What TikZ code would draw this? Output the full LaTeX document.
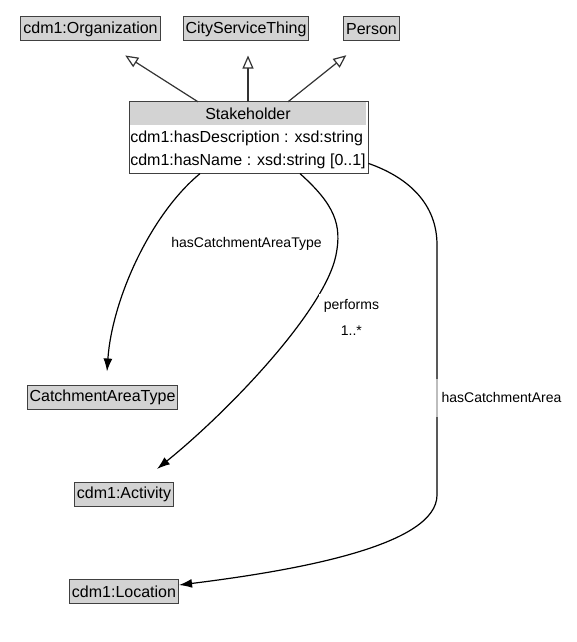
\documentclass[tikz,border=0pt]{standalone}
\usepackage{fontspec}
\setmainfont{Liberation Sans}
\usetikzlibrary{arrows.meta,positioning}
\definecolor{boxgray}{RGB}{211,211,211}
\tikzset{
	cls/.style={draw=black!75,fill=boxgray,line width=1pt,font=\fontsize{16}{19}\selectfont,
		inner xsep=2.5pt,inner ysep=0pt,minimum height=24pt},
	hdr/.style={fill=boxgray,font=\fontsize{16}{19}\selectfont,minimum width=236pt,
		minimum height=23pt,inner sep=0pt},
	attrs/.style={font=\fontsize{16}{23}\selectfont,align=left,minimum width=236pt,
		inner xsep=2.5pt,inner ysep=0pt,minimum height=48pt},
	isa/.style={draw=black!80,line width=1.2pt,-{Triangle[open,length=13pt,width=11pt]}},
	assoc/.style={draw=black,line width=1.2pt,-{Latex[length=13pt,width=9pt]}},
	lbl/.style={font=\fontsize{14}{17}\selectfont,fill=white,inner sep=3pt}
}
\begin{document}
\begin{tikzpicture}[x=1pt,y=-1pt]
	\useasboundingbox (0,0) rectangle (577,642);
	% superclasses
	\node[cls] (org) at (90.5,29) {cdm1:Organization};
	\node[cls] (cst) at (246,29) {CityServiceThing};
	\node[cls] (per) at (371.5,29) {Person};
	% the class itself
	\node[hdr] (stk) at (248,113.5) {Stakeholder};
	\node[attrs,below=0pt of stk] (stkattr)
		{cdm1:hasDescription : xsd:string\\cdm1:hasName : xsd:string [0..1]};
	\draw[draw=black!75,line width=1pt] (stk.north west) rectangle (stkattr.south east);
	% ranges
	\node[cls] (cat) at (102.5,397) {CatchmentAreaType};
	\node[cls] (act) at (124,494.5) {cdm1:Activity};
	\node[cls] (loc) at (124,591.5) {cdm1:Location};

	\draw[isa,shorten >=26pt] ([xshift=-50pt]stk.north) -- ([xshift=12.8pt]org.south);
	\draw[isa,shorten >=14pt] (stk.north) -- ([xshift=2pt]cst.south);
	\draw[isa,shorten >=22pt] ([xshift=40pt]stk.north) -- ([xshift=-8pt]per.south);

	\draw[assoc] ([xshift=-48pt]stkattr.south) .. controls (150,215) and (112,300)
		.. ([xshift=4.5pt,yshift=13pt]cat.north)
		node[lbl,pos=.43,anchor=west,xshift=24pt,yshift=3pt] {hasCatchmentAreaType};
	\draw[assoc] ([xshift=52pt]stkattr.south) .. controls (335,205) and (342,225) .. (336,255)
		.. controls (325,310) and (230,410) .. ([xshift=33pt,yshift=13pt]act.north)
		node[lbl,pos=.2,anchor=north west,align=center,inner sep=5pt,xshift=-2pt,yshift=-1pt]
		{performs\\[9pt]1..*};
	\draw[assoc] ([yshift=-14pt]stkattr.east) .. controls (410,178) and (437,205) .. (437,245)
		-- (437,495)
		node[lbl,pos=.61,anchor=west,xshift=-2pt,fill opacity=.6,text opacity=1,
			inner xsep=6pt,minimum height=38pt] {hasCatchmentArea}
		.. controls (437,545) and (300,570) .. ([yshift=6.5pt]loc.east);
\end{tikzpicture}
\end{document}
